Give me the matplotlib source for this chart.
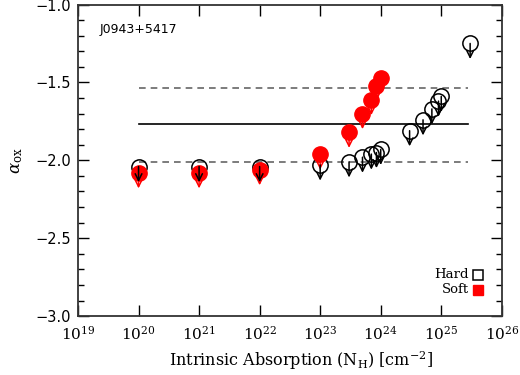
import matplotlib.pyplot as plt
import numpy as np

# column densities (same grid for both bands)
nh_hard = [1e20, 1e21, 1e22, 1e23, 3e23, 5e23, 7e23, 8.5e23, 1e24,
           3e24, 5e24, 7e24, 9e24, 1e25, 3e25]
aox_hard = [-2.04, -2.04, -2.04, -2.03, -2.01, -1.98, -1.96, -1.95, -1.93,
            -1.81, -1.74, -1.67, -1.62, -1.59, -1.25]

nh_soft = [1e20, 1e21, 1e22, 1e23, 3e23, 5e23, 7e23, 8.5e23, 1e24]
aox_soft = [-2.08, -2.08, -2.06, -1.96, -1.82, -1.70, -1.61, -1.52, -1.47]

# reference lines: mean and +/- range
nh_line = [1e20, 2.8e25]
aox_mean = -1.77
aox_lo = -2.01
aox_hi = -1.535

source = "J0943+5417"
arrow_len = 0.1

plt.rcParams['mathtext.fontset'] = 'dejavuserif'

fig = plt.figure(figsize=(5.2, 3.75), dpi=100)
ax = fig.add_axes([0.15, 0.157, 0.815, 0.831])

ax.plot(nh_line, [aox_hi, aox_hi], color='0.4', ls=(0, (4, 3)), lw=1.2)
ax.plot(nh_line, [aox_lo, aox_lo], color='0.4', ls=(0, (4, 3)), lw=1.2)
ax.plot(nh_line, [aox_mean, aox_mean], color='black', lw=1.2)

ax.plot(nh_hard, aox_hard, 'o', ms=11, mfc='none', mec='black', mew=1.1, zorder=3)
ax.plot(nh_soft, aox_soft, 'o', ms=11, mfc='red', mec='red', zorder=4)

# upper limit arrows
for x, y in zip(nh_soft, aox_soft):
    ax.annotate('', xy=(x, y - arrow_len), xytext=(x, y),
                arrowprops=dict(arrowstyle='->', color='red', lw=1.1,
                                mutation_scale=12, shrinkA=0, shrinkB=0), zorder=5)
for x, y in zip(nh_hard, aox_hard):
    ax.annotate('', xy=(x, y - arrow_len), xytext=(x, y),
                arrowprops=dict(arrowstyle='->', color='black', lw=1.1,
                                mutation_scale=12, shrinkA=0, shrinkB=0), zorder=6)

ax.set_xscale('log')
ax.set_xlim(1e19, 1e26)
ax.set_ylim(-3.0, -1.0)
ax.set_xticks([10.0**k for k in range(19, 27)])
ax.xaxis.set_minor_locator(plt.NullLocator())
ax.set_yticks(np.arange(-3.0, -0.99, 0.5))
ax.set_yticks(np.arange(-3.0, -0.99, 0.1), minor=True)
ax.set_yticklabels(['\u22123.0', '\u22122.5', '\u22122.0', '\u22121.5', '\u22121.0'])

ax.tick_params(which='both', direction='in', top=True, right=True, width=1.0)
ax.tick_params(which='major', length=8)
ax.tick_params(which='minor', length=4)
ax.tick_params(axis='y', labelsize=10.5, pad=5)
ax.tick_params(axis='x', labelsize=11, pad=6)
for lab in ax.get_xticklabels():
    lab.set_family('DejaVu Serif')
for sp in ax.spines.values():
    sp.set_linewidth(1.3)
    sp.set_color('0.2')

ax.set_xlabel(r'Intrinsic Absorption (N$_{\rm H}$) [cm$^{-2}$]', family='DejaVu Serif',
              fontsize=11.5)
ax.xaxis.set_label_coords(0.525, -0.105)
ax.set_ylabel(r'$\alpha_{\rm ox}$', fontsize=12)
ax.yaxis.set_label_coords(-0.125, 0.5)

ax.text(0.052, 0.92, source, transform=ax.transAxes, fontsize=9, va='center')

# legend
ax.text(0.922, 0.132, 'Hard', transform=ax.transAxes, ha='right', va='center',
        family='DejaVu Serif', fontsize=9.5)
ax.text(0.922, 0.085, 'Soft', transform=ax.transAxes, ha='right', va='center',
        family='DejaVu Serif', fontsize=9.5)
ax.plot([0.945], [0.132], 's', ms=6.5, mfc='none', mec='black', mew=1.1,
        transform=ax.transAxes, clip_on=False)
ax.plot([0.945], [0.085], 's', ms=6.5, mfc='red', mec='red',
        transform=ax.transAxes, clip_on=False)

fig.savefig('out.png', dpi=100)
